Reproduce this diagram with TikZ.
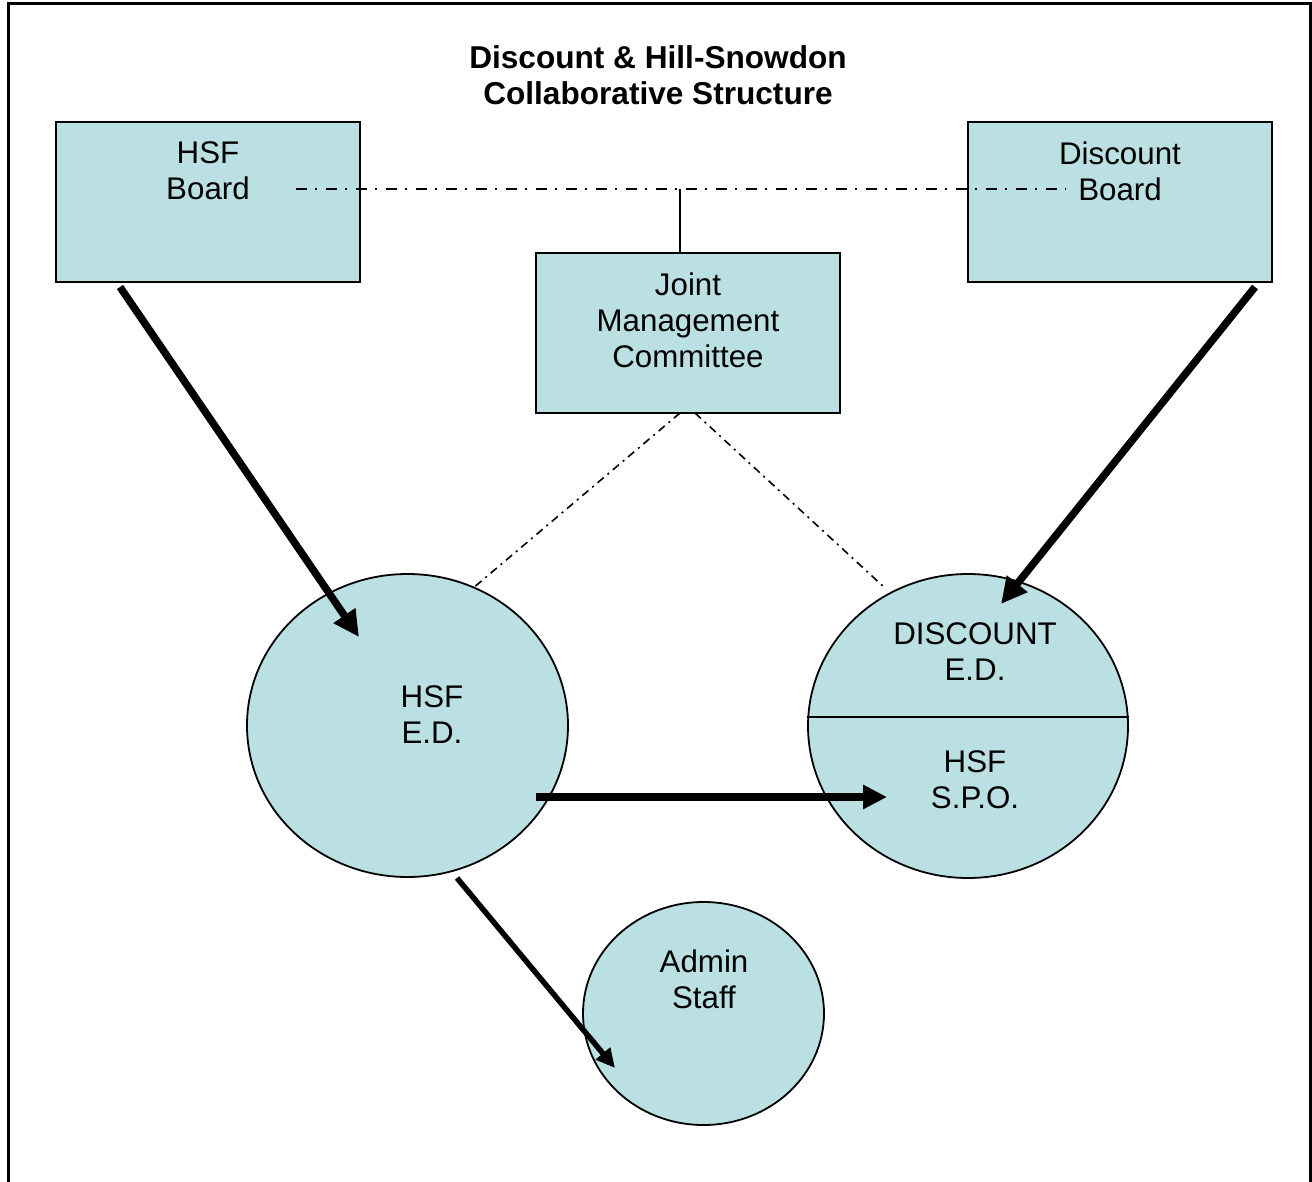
\documentclass[tikz,border=0pt]{standalone}
\usepackage{fontspec}
\setmainfont{Liberation Sans}
\usetikzlibrary{arrows.meta,shapes.geometric,calc}
\definecolor{boxfill}{RGB}{187,224,227}
\begin{document}
\begin{tikzpicture}[x=1pt,y=-1pt,
  lbl/.style={font=\fontsize{31.3}{36}\selectfont, align=center, inner sep=0pt},
  ttl/.style={font=\fontsize{31.6}{36}\selectfont\bfseries, align=center, inner sep=0pt},
  boxn/.style={draw, line width=1.8pt, fill=boxfill, minimum width=304pt, minimum height=160pt, inner sep=0pt},
  ovaln/.style={ellipse, draw, line width=1.8pt, fill=boxfill, inner sep=0pt},
  dashdot/.style={line width=2pt, dash pattern=on 11pt off 8pt on 2pt off 9pt},
  finedashdot/.style={line width=1.6pt, dash pattern=on 8pt off 5pt on 2pt off 5pt},
  bigarrow/.style={line width=7.5pt, -{Triangle[length=26pt,width=25pt]}},
  harrow/.style={line width=8pt, -{Triangle[length=24pt,width=23pt]}},
  smallarrow/.style={line width=5.5pt, -{Triangle[length=19pt,width=18pt]}},
]
\useasboundingbox (0,0) rectangle (1312,1182);
% frame
\draw[line width=2.8pt] (8.5,1185) -- (8.5,3.5) -- (1310.5,3.5) -- (1310.5,1185);

% title
\node[ttl] (title) at (658,75) {Discount \& Hill-Snowdon\\Collaborative Structure};

% boxes
\node[boxn] (hsfb) at (208,202) {};
\node[boxn] (discb) at (1120,202) {};
\node[boxn] (jmc) at (688,333) {};
\node[lbl] (hsfbt) at (208,171) {HSF\\Board};
\node[lbl] (discbt) at (1120,171) {Discount\\Board};
\node[lbl] (jmct) at (688,320) {Joint\\Management\\Committee};

% ovals
\node[ovaln, minimum width=321pt, minimum height=303pt] (hsfed) at (407.5,725.5) {};
\node[ovaln, minimum width=320pt, minimum height=304pt] (disc) at (968,726) {};
\node[ovaln, minimum width=241pt, minimum height=223pt] (admin) at (703.5,1013.5) {};
\draw[line width=1.8pt] ($(disc.west)+(0,-9)$) -- ($(disc.east)+(0,-9)$);
\node[lbl] (hsfedt) at (432,715) {HSF\\E.D.};
\node[lbl] (disct) at (975,652) {DISCOUNT\\E.D.};
\node[lbl] (spot) at (975,780) {HSF\\S.P.O.};
\node[lbl] (admint) at (704,979) {Admin\\Staff};

% board link lines
\coordinate (linkL) at (296,189);
\coordinate (linkR) at (1066,189);
\coordinate (linkM) at (680,189);
\draw[dashdot] (linkL) -- (linkR);
\draw[line width=2pt] (linkM) -- (linkM |- jmc.north);

% JMC dash-dot lines
\coordinate (jmcL) at (680,413);
\coordinate (jmcR) at (695,413);
\coordinate (edL) at (472,589);
\coordinate (edR) at (885,588);
\draw[finedashdot] (jmcL) -- (edL);
\draw[finedashdot] (jmcR) -- (edR);

% arrows
\coordinate (a1s) at (120,287);
\coordinate (a1e) at (359,637);
\coordinate (a2s) at (1255,287);
\coordinate (a2e) at (1001,604);
\coordinate (a3s) at (536,797);
\coordinate (a3e) at (887,797);
\coordinate (a4s) at (457,878);
\coordinate (a4e) at (615,1068);
\draw[bigarrow] (a1s) -- (a1e);
\draw[bigarrow] (a2s) -- (a2e);
\draw[harrow] (a3s) -- (a3e);
\draw[smallarrow] (a4s) -- (a4e);
\end{tikzpicture}
\end{document}
